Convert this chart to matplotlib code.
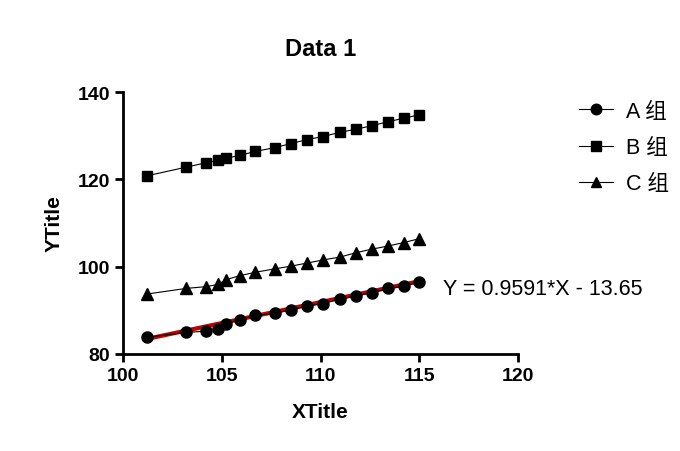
import numpy as np
import matplotlib.pyplot as plt

plt.rcParams['font.family'] = ['Liberation Sans', 'Noto Sans CJK SC', 'DejaVu Sans']

x_vals = [101.2, 103.2, 104.2, 104.8, 105.2, 105.9, 106.7, 107.7, 108.5,
          109.3, 110.1, 111.0, 111.8, 112.6, 113.4, 114.2, 115.0]
group_a = [83.8, 84.9, 85.2, 85.8, 86.9, 87.8, 88.8, 89.3, 90.1,
           90.9, 91.5, 92.6, 93.3, 94.0, 95.0, 95.5, 96.5]
group_b = [120.8, 122.8, 123.8, 124.4, 124.8, 125.5, 126.4, 127.3, 128.2,
           129.1, 129.8, 130.8, 131.5, 132.3, 133.2, 134.0, 134.8]
group_c = [93.7, 95.0, 95.4, 95.9, 97.0, 97.9, 98.7, 99.5, 100.1,
           100.8, 101.5, 102.2, 103.2, 104.0, 104.7, 105.5, 106.4]
fit_slope = 0.9591
fit_intercept = -13.65

fig = plt.figure(figsize=(6.8, 4.52), dpi=100)
ax = fig.add_axes([0.181, 0.215, 0.581, 0.579])

fit_x = np.array([x_vals[0], x_vals[-1]])
ax.plot(fit_x, fit_slope * fit_x + fit_intercept, color='#c00000', lw=3, zorder=2)

ax.plot(x_vals, group_a, color='black', lw=0.8, marker='o', ms=8, label='A 组', zorder=3)
ax.plot(x_vals, group_b, color='black', lw=0.8, marker='s', ms=7.5, label='B 组', zorder=3)
ax.plot(x_vals, group_c, color='black', lw=0.8, marker='^', ms=8, label='C 组', zorder=3)

ax.set_xlim(100, 120)
ax.set_ylim(80, 140)
ax.set_xticks([100, 105, 110, 115, 120])
ax.set_yticks([80, 100, 120, 140])
for s in ['top', 'right']:
    ax.spines[s].set_visible(False)
for s in ['left', 'bottom']:
    ax.spines[s].set_linewidth(2)
ax.tick_params(width=2, length=6, labelsize=14)
for lbl in ax.get_xticklabels() + ax.get_yticklabels():
    lbl.set_fontweight('bold')

ax.set_title('Data 1', fontsize=17, fontweight='bold', pad=27)
ax.set_xlabel('XTitle', fontsize=15, fontweight='bold', labelpad=13)
ax.set_ylabel('YTitle', fontsize=15, fontweight='bold', labelpad=10)

ax.text(0.81, 0.25, 'Y = 0.9591*X - 13.65', transform=ax.transAxes,
        fontsize=15.5, va='center')

leg = ax.legend(loc='upper left', bbox_to_anchor=(1.105, 1.04), frameon=False,
                fontsize=15.5, handlelength=1.6, handletextpad=0.6,
                labelspacing=0.7, markerscale=0.95)

fig.savefig('out.png', dpi=100)
